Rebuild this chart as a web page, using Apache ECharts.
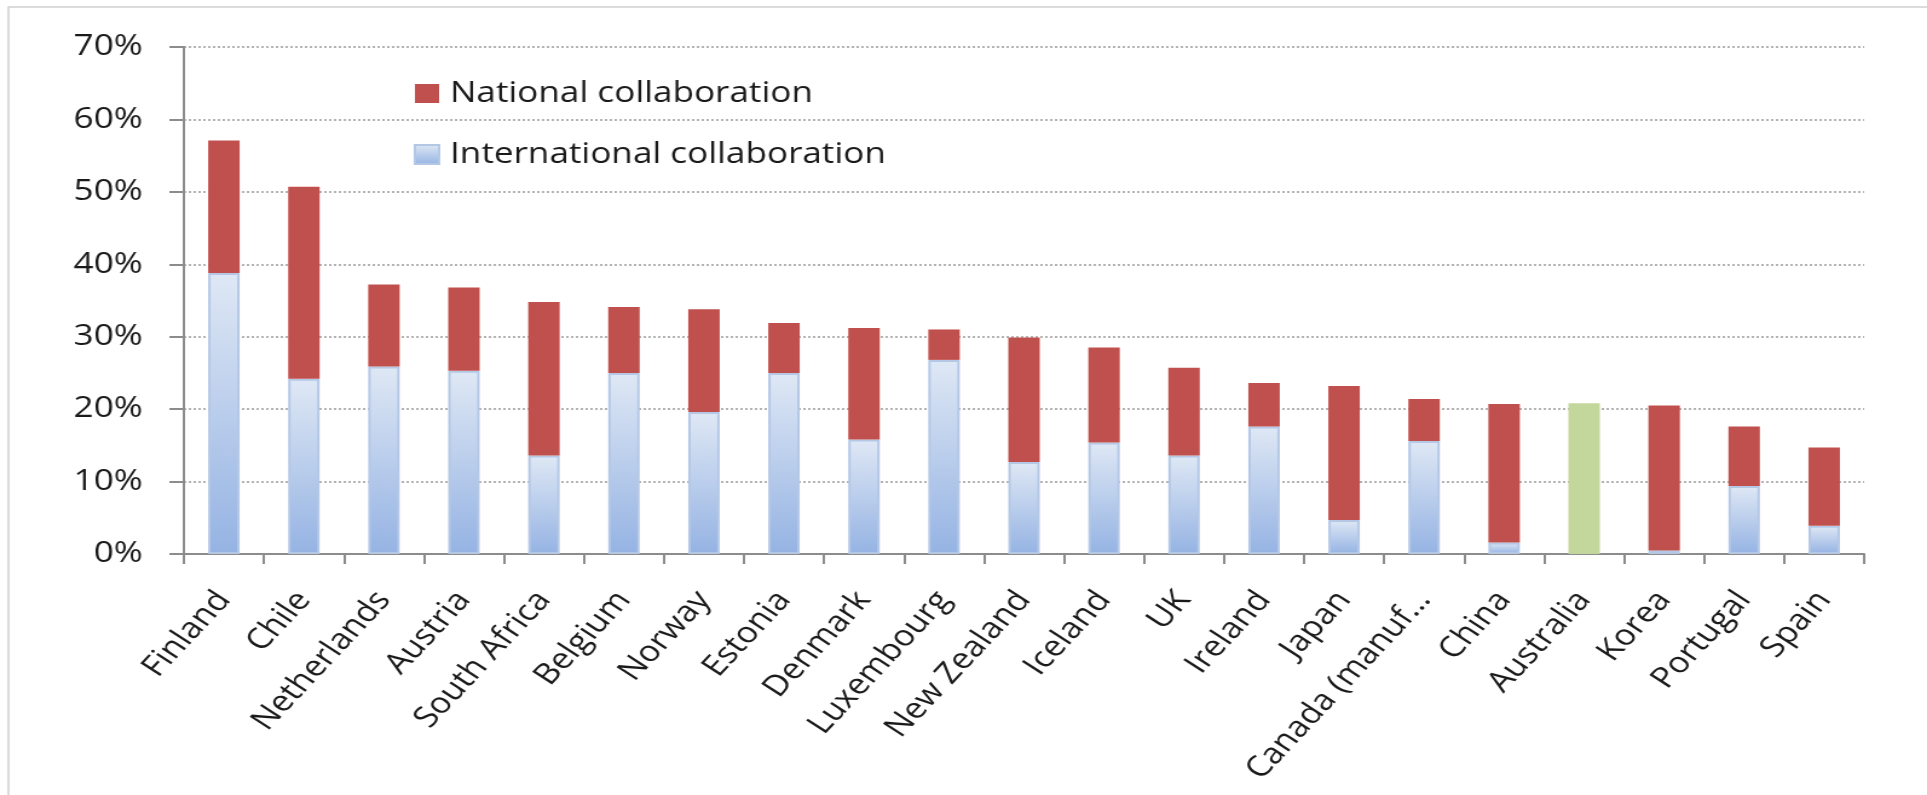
<!DOCTYPE html>
<html>
<head>
<meta charset="utf-8">
<script src="https://cdn.jsdelivr.net/npm/echarts@6/dist/echarts.min.js"></script>
<style>
html,body{margin:0;padding:0;background:#fff;overflow:hidden;width:1927px;height:795px}
#c{width:1593px;height:795px;transform:scaleX(1.2097);transform-origin:0 0}
</style>
</head>
<body>
<div id="c"></div>
<script>
const categories = ["Finland","Chile","Netherlands","Austria","South Africa","Belgium","Norway","Estonia","Denmark","Luxembourg","New Zealand","Iceland","UK","Ireland","Japan","Canada (manuf…","China","Australia","Korea","Portugal","Spain"];
const international = [38.8,24.2,25.9,25.3,13.6,25.0,19.6,25.0,15.8,26.8,12.7,15.4,13.6,17.6,4.7,15.6,1.6,null,0.5,9.4,3.9];
const national = [18.3,26.5,11.3,11.5,21.2,9.1,14.2,6.9,15.4,4.2,17.2,13.1,12.1,6.0,18.5,5.8,19.1,null,20.0,8.2,10.8];
const australiaTotal = [null,null,null,null,null,null,null,null,null,null,null,null,null,null,null,null,null,20.8,null,null,null];
const yTicks = [0,10,20,30,40,50,60,70];

const FONT = 'Open Sans';
const blueGrad = new echarts.graphic.LinearGradient(0,0,0,1,[
  {offset:0,color:'#dfe8f5'},{offset:1,color:'#95b3e3'}]);

const chart = echarts.init(document.getElementById('c'), null, {renderer:'canvas'});
chart.setOption({
  animation:false,
  textStyle:{fontFamily:FONT},
  graphic:[{type:'rect',shape:{x:7,y:7,width:1700,height:820},style:{fill:'none',stroke:'#d0d0d0',lineWidth:1.5},silent:true}],
  legend:{
    data:['National collaboration','International collaboration'],
    orient:'vertical', left:337, top:74, itemGap:32,
    itemWidth:20, itemHeight:19, icon:'rect',
    textStyle:{fontFamily:FONT,fontSize:29,color:'#1a1a1a',padding:[0,0,0,4]}
  },
  grid:{left:152,right:52,top:47,bottom:241},
  xAxis:{
    type:'category', data:categories,
    axisLine:{lineStyle:{color:'#8c8c8c',width:2}},
    axisTick:{show:true,length:10,alignWithLabel:false,lineStyle:{color:'#8c8c8c',width:2}},
    axisLabel:{rotate:52,fontFamily:FONT,fontSize:29,color:'#1a1a1a',margin:41,interval:0}
  },
  yAxis:{
    type:'value', min:yTicks[0], max:yTicks[yTicks.length-1], interval:10,
    axisLine:{show:true,lineStyle:{color:'#8c8c8c',width:2}},
    axisTick:{show:true,length:12,lineStyle:{color:'#8c8c8c',width:2}},
    axisLabel:{formatter:'{value}%',fontFamily:FONT,fontSize:29,color:'#1a1a1a',margin:34},
    splitLine:{lineStyle:{color:'#9a9a9a',type:[2,2],width:1.5}}
  },
  series:[
    {name:'International collaboration',type:'bar',stack:'a',barWidth:26,data:international,
     itemStyle:{color:blueGrad,borderColor:'#b4c8e6',borderWidth:2}},
    {name:'National collaboration',type:'bar',stack:'a',data:national,
     itemStyle:{color:'#c0504d'}},
    {name:'Australia',type:'bar',stack:'a',data:australiaTotal,
     itemStyle:{color:'#c3d69b'}}
  ]
});
</script>
</body>
</html>
